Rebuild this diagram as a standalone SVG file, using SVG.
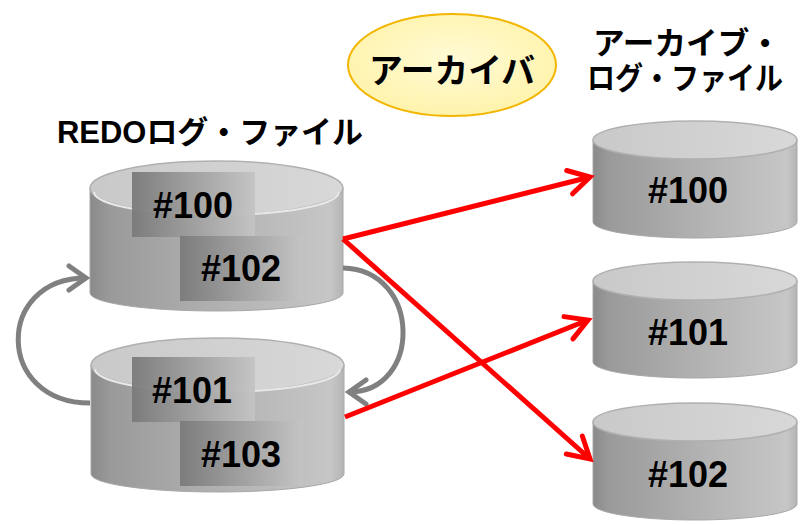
<svg xmlns="http://www.w3.org/2000/svg" width="803" height="525" viewBox="0 0 803 525">
<defs>
<linearGradient id="body" x1="0" y1="0" x2="1" y2="0">
<stop offset="0" stop-color="#8a8a8a"/>
<stop offset="0.08" stop-color="#9a9a9a"/>
<stop offset="0.6" stop-color="#b6b6b6"/>
<stop offset="0.95" stop-color="#c6c6c6"/>
<stop offset="1" stop-color="#b4b4b4"/>
</linearGradient>
<linearGradient id="topg" x1="0" y1="0" x2="1" y2="0">
<stop offset="0" stop-color="#c9c9c9"/>
<stop offset="1" stop-color="#d8d8d8"/>
</linearGradient>
<linearGradient id="lbl" x1="0" y1="0" x2="1" y2="0">
<stop offset="0" stop-color="#7a7a7a"/>
<stop offset="1" stop-color="#c4c4c4"/>
</linearGradient>
<radialGradient id="yel" cx="0.5" cy="0.45" r="0.6">
<stop offset="0" stop-color="#fffbd6"/>
<stop offset="1" stop-color="#fff2a8"/>
</radialGradient>
<marker id="ar" markerUnits="userSpaceOnUse" markerWidth="40" markerHeight="40" viewBox="-30 -20 40 40" refX="0" refY="0" orient="auto">
<path d="M-21,-12 L0,0 L-21,12" fill="none" stroke="#ff0000" stroke-width="5" stroke-linecap="round" stroke-linejoin="miter"/>
</marker>
<marker id="ag" markerUnits="userSpaceOnUse" markerWidth="40" markerHeight="40" viewBox="-30 -20 40 40" refX="0" refY="0" orient="auto">
<path d="M-17,-12 L0,0 L-17,12" fill="none" stroke="#808080" stroke-width="5" stroke-linecap="round" stroke-linejoin="miter"/>
</marker>
</defs>
<style>
.body{fill:url(#body);stroke:#a8a8a8;stroke-width:1}
.top{fill:url(#topg);stroke:#b0b0b0;stroke-width:1.5}
.rim{fill:none;stroke:#e8e8e8;stroke-width:2}
.lbl{fill:url(#lbl);opacity:0.95}
.num{font-family:"Liberation Sans",Arial,sans-serif;font-weight:bold;font-size:36px;fill:#000;text-anchor:middle}
.ttl{font-family:"Liberation Sans","Noto Sans CJK JP",sans-serif;font-weight:bold;font-size:31px;fill:#000}
.red{fill:none;stroke:#ff0000;stroke-width:5;marker-end:url(#ar)}
.gray{fill:none;stroke:#808080;stroke-width:5;marker-end:url(#ag)}
</style>

<g id="title-redo">
<text class="ttl" x="57" y="143" textLength="306" lengthAdjust="spacingAndGlyphs">REDOログ・ファイル</text>
</g>
<g id="title-archive">
<text class="ttl" x="593" y="54" textLength="188" lengthAdjust="spacingAndGlyphs">アーカイブ・</text>
<text class="ttl" x="587" y="89" textLength="196" lengthAdjust="spacingAndGlyphs">ログ・ファイル</text>
</g>

<g id="archiver">
<ellipse cx="452" cy="65" rx="104" ry="51" fill="url(#yel)" stroke="#f2b600" stroke-width="2"/>
<text x="452" y="83" text-anchor="middle" font-family="'Noto Sans CJK JP',sans-serif" font-weight="bold" font-size="34" fill="#000" textLength="166" lengthAdjust="spacingAndGlyphs">アーカイバ</text>
</g>

<g id="redo1">
<path class="body" d="M90,188 L90,293 A126.5,18 0 0 0 343,293 L343,188 Z"/>
<ellipse class="top" cx="216.5" cy="188" rx="126.5" ry="27"/>
<path class="rim" d="M94,192 A122,23 0 0 0 339,192"/>
<rect class="lbl" x="132" y="172" width="123" height="65"/>
<text class="num" x="193" y="218">#100</text>
<rect class="lbl" x="180" y="236" width="123" height="65"/>
<text class="num" x="241" y="281">#102</text>
</g>

<g id="redo2">
<path class="body" d="M91,365 L91,474 A126.5,18 0 0 0 344,474 L344,365 Z"/>
<ellipse class="top" cx="217.5" cy="365" rx="126.5" ry="27"/>
<path class="rim" d="M95,369 A122,23 0 0 0 340,369"/>
<rect class="lbl" x="132" y="357" width="123" height="65"/>
<text class="num" x="192" y="403">#101</text>
<rect class="lbl" x="180" y="421" width="123" height="65"/>
<text class="num" x="241" y="467">#103</text>
</g>

<g id="arch100">
<path class="body" d="M593,140 L593,222 A102,16 0 0 0 797,222 L797,140 Z"/>
<ellipse class="top" cx="695" cy="140" rx="102" ry="19"/>
<text class="num" x="688" y="203">#100</text>
</g>

<g id="arch101">
<path class="body" d="M593,281 L593,362 A102,16 0 0 0 797,362 L797,281 Z"/>
<ellipse class="top" cx="695" cy="281" rx="102" ry="19"/>
<text class="num" x="688" y="345">#101</text>
</g>

<g id="arch102">
<path class="body" d="M593,422 L593,504 A102,16 0 0 0 797,504 L797,422 Z"/>
<ellipse class="top" cx="695" cy="422" rx="102" ry="19"/>
<text class="num" x="688" y="487">#102</text>
</g>

<g id="connectors">
<path class="gray" d="M90,403 C-5,403 -5,278 86,278"/>
<path class="gray" d="M343,268 C422,270 422,392 349,392"/>
<path class="red" d="M343,239 L590,177"/>
<path class="red" d="M343,239 L590,459"/>
<path class="red" d="M345,417 L588,320"/>
</g>
</svg>
